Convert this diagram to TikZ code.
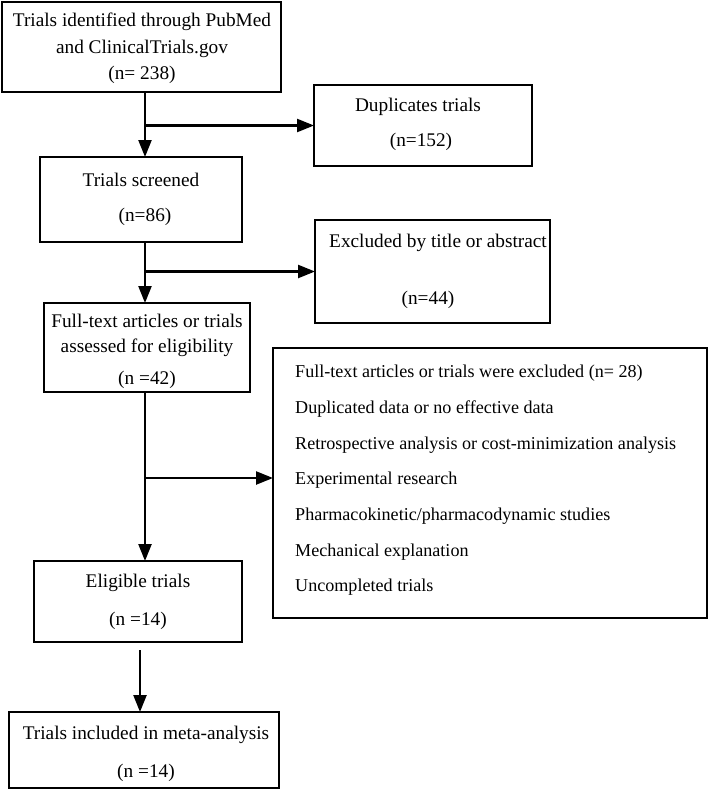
\documentclass[tikz,border=0pt]{standalone}
\usepackage{fontspec}
\setmainfont{Liberation Serif}
\usetikzlibrary{arrows.meta}
\begin{document}
\begin{tikzpicture}[x=1pt,y=-1pt,
  box/.style={draw,line width=2.6pt,inner sep=0pt,outer sep=0pt},
  txt/.style={inner sep=0pt,font=\fontsize{19.3}{22}\selectfont},
  ltxt/.style={inner sep=0pt,anchor=west,font=\fontsize{18.1}{21}\selectfont},
  arr/.style={line width=2.4pt,-{Triangle[length=17pt,width=13pt]}}]
\useasboundingbox (0,0) rectangle (709,792);
\node[box,minimum width=279,minimum height=90] (b1) at (141.5,47) {};
\node[txt] at (142,22) {Trials identified through PubMed};
\node[txt] at (142,49) {and ClinicalTrials.gov};
\node[txt] at (142,75) {(n= 238)};
\node[box,minimum width=218,minimum height=81] (dup) at (423,125.5) {};
\node[txt] at (418,107) {Duplicates trials};
\node[txt] at (421,142) {(n=152)};
\node[box,minimum width=202,minimum height=85] (b2) at (141,199.5) {};
\node[txt] at (141,180) {Trials screened};
\node[txt] at (145,217) {(n=86)};
\node[box,minimum width=235,minimum height=103] (exc) at (432.5,271.5) {};
\node[txt] at (438,243) {Excluded by title or abstract};
\node[txt] at (428,300) {(n=44)};
\node[box,minimum width=206,minimum height=89] (b3) at (147,347.5) {};
\node[txt] at (147,321) {Full-text articles or trials};
\node[txt] at (147,348) {assessed for eligibility};
\node[txt] at (147,380) {(n =42)};
\node[box,minimum width=434,minimum height=270] (big) at (490,483) {};
\node[ltxt] at (295,373) {Full-text articles or trials were excluded (n= 28)};
\node[ltxt] at (295,409) {Duplicated data or no effective data};
\node[ltxt] at (295,445) {Retrospective analysis or cost-minimization analysis};
\node[ltxt] at (295,480) {Experimental research};
\node[ltxt] at (295,516) {Pharmacokinetic/pharmacodynamic studies};
\node[ltxt] at (295,552) {Mechanical explanation};
\node[ltxt] at (295,587) {Uncompleted trials};
\node[box,minimum width=208,minimum height=81] (b4) at (138,601.5) {};
\node[txt] at (138,583) {Eligible trials};
\node[txt] at (138,621) {(n =14)};
\node[box,minimum width=270,minimum height=76] (b5) at (144,750) {};
\node[txt] at (146,735) {Trials included in meta-analysis};
\node[txt] at (146,773) {(n =14)};
\coordinate (col) at (145,0);
\coordinate (col2) at (140,0);
\draw[arr] (b1.south -| col) -- (b2.north -| col);
\draw[arr] (dup.west -| col) -- (dup.west);
\draw[arr] (b2.south -| col) -- (b3.north -| col);
\draw[arr] (exc.west -| col) -- (exc.west);
\draw[arr] (b3.south -| col) -- (b4.north -| col);
\draw[arr] ([yshift=5pt]big.west -| col) -- ([yshift=5pt]big.west);
\draw[arr] ([yshift=-8pt]b4.south -| col2) -- (b5.north -| col2);
\end{tikzpicture}
\end{document}
